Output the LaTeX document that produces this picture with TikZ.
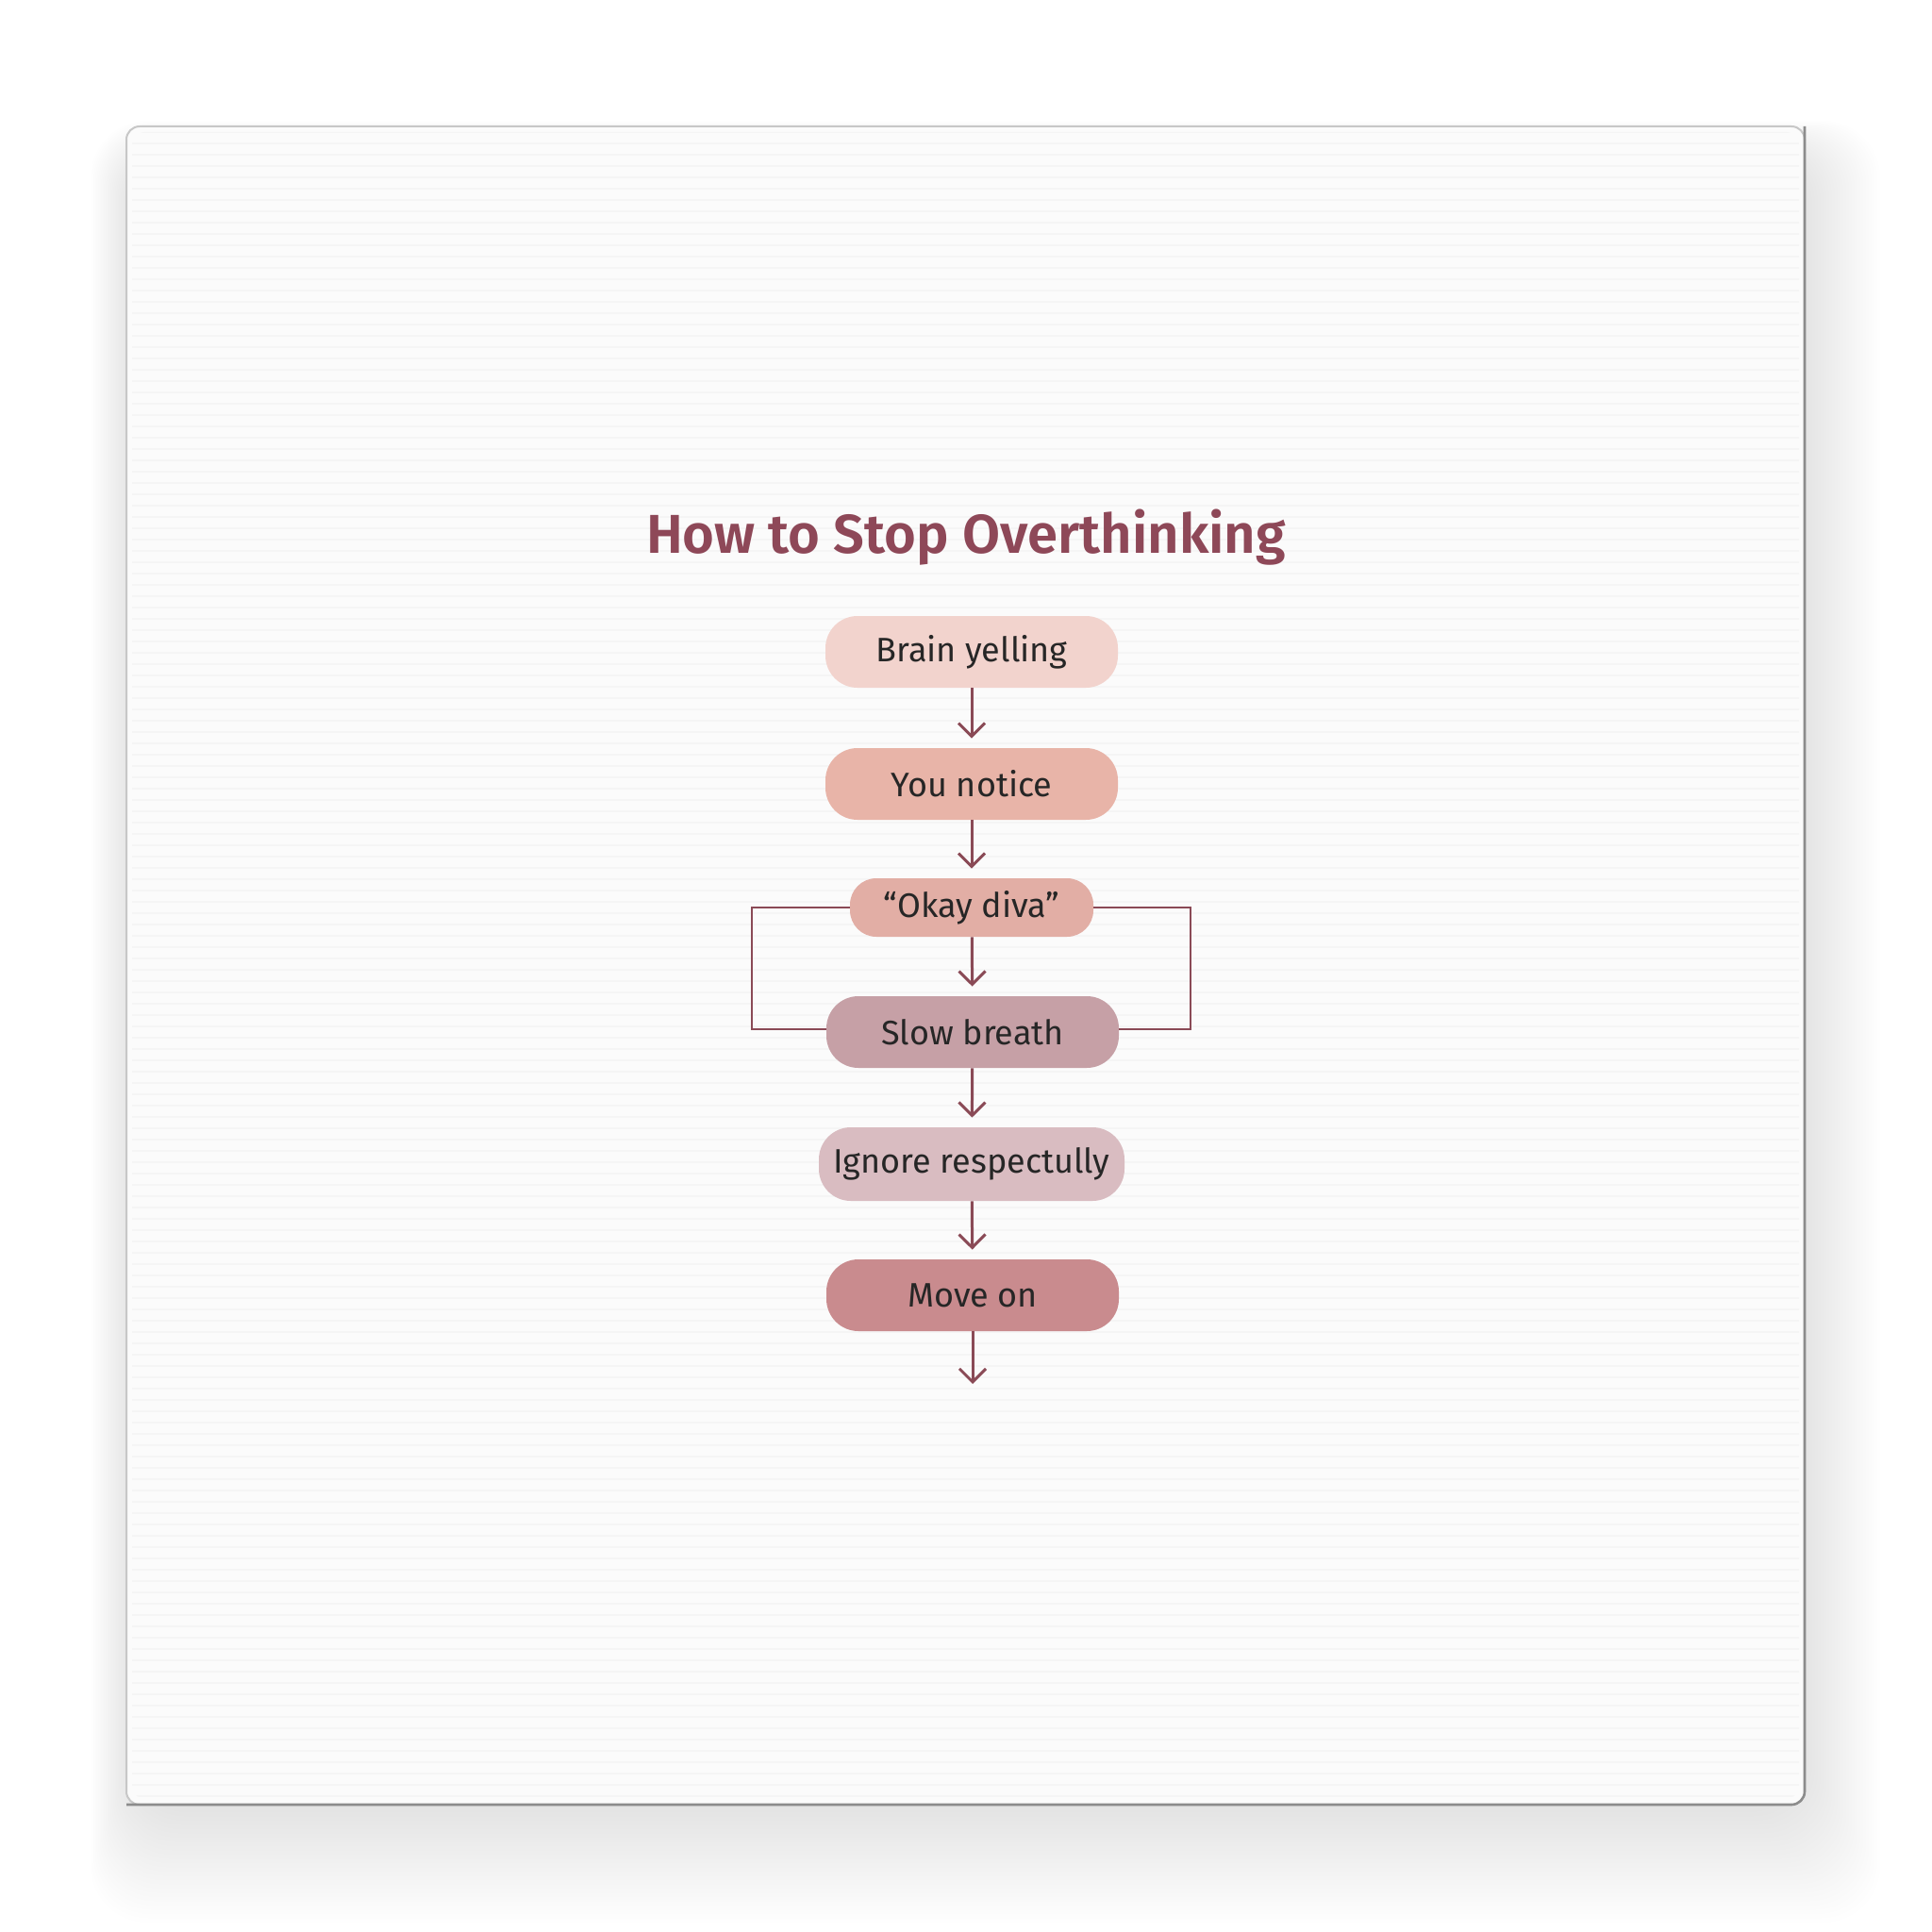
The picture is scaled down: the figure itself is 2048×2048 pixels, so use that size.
\documentclass[tikz,border=0pt]{standalone}
\usepackage{fontspec}
\setmainfont{Fira Sans}
\newfontfamily\titlefont{Fira Sans SemiBold}
\usetikzlibrary{arrows.meta,patterns.meta}
\definecolor{arrowc}{HTML}{8A4A56}
\definecolor{titlec}{HTML}{8E4858}
\definecolor{c1}{HTML}{F2D3CD}
\definecolor{c2}{HTML}{E8B4A8}
\definecolor{c3}{HTML}{E2AEA5}
\definecolor{c4}{HTML}{C6A0A6}
\definecolor{c5}{HTML}{D9BCC1}
\definecolor{c6}{HTML}{C98B8E}
\definecolor{canvasc}{HTML}{FBFBFB}
\tikzset{
  stepbox/.style={rounded corners=17pt, minimum width=155pt, minimum height=38pt, inner sep=0pt,
    font=\fontsize{18}{22}\selectfont, text=black!85},
  flow/.style={draw=arrowc, line width=1.5pt, -{Straight Barb[length=7pt,width=14pt,line width=1.5pt]}, shorten >=5pt},
  loopline/.style={draw=arrowc, line width=1.1pt},
}
\begin{document}
\begin{tikzpicture}[x=0.5pt,y=-0.5pt]
\useasboundingbox (0,0) rectangle (2048,2048);
\fill[white] (0,0) rectangle (2048,2048);
% drop shadow
\foreach \i in {1,...,30}{
  \fill[black, opacity=0.0045, rounded corners=30pt]
    ({134-1.6*\i+10},{134-1.2*\i+30}) rectangle ({1913+3*\i-10},{1913+4.5*\i-10});
}
% canvas
\fill[canvasc, rounded corners=7pt] (134,134) rectangle (1913,1913);
\fill[pattern={Lines[distance=6pt,angle=0,line width=0.8pt]}, pattern color=black!4, rounded corners=7pt] (140,140) rectangle (1907,1907);
\draw[black!22, line width=1pt, rounded corners=7pt] (134,134) rectangle (1913,1913);
\draw[black!45, line width=1.3pt, rounded corners=7pt] (134,1913) -- (1913,1913) -- (1913,134);
% title
\node[font=\fontsize{29}{34}\titlefont, text=titlec] (title) at (1024,570) {How to Stop Overthinking};
% steps
\node[stepbox, fill=c1] (brain) at (1030,691) {Brain yelling};
\node[stepbox, fill=c2] (notice) at (1030,831) {You notice};
\node[stepbox, fill=c3, minimum width=129pt, minimum height=31pt, rounded corners=14pt] (diva) at (1030,962) {“Okay diva”};
\node[stepbox, fill=c4] (breath) at (1031,1094) {Slow breath};
\node[stepbox, fill=c5, minimum width=162pt, minimum height=39pt] (ignore) at (1030,1234) {Ignore respectully};
\node[stepbox, fill=c6] (move) at (1031,1373) {Move on};
\coordinate (end) at (1031,1467);
% connectors
\draw[flow] (brain) -- (notice);
\draw[flow] (notice) -- (diva);
\draw[flow] (diva) -- (breath);
\draw[flow] (breath) -- (ignore);
\draw[flow] (ignore) -- (move);
\draw[flow, shorten >=0pt] (move) -- (end);
% loops
\draw[loopline] (diva.west) -- (797,962) -- (797,1091) -- (breath.west |- 0,1091);
\draw[loopline] (diva.east) -- (1262,962) -- (1262,1091) -- (breath.east |- 0,1091);
\end{tikzpicture}
\end{document}
